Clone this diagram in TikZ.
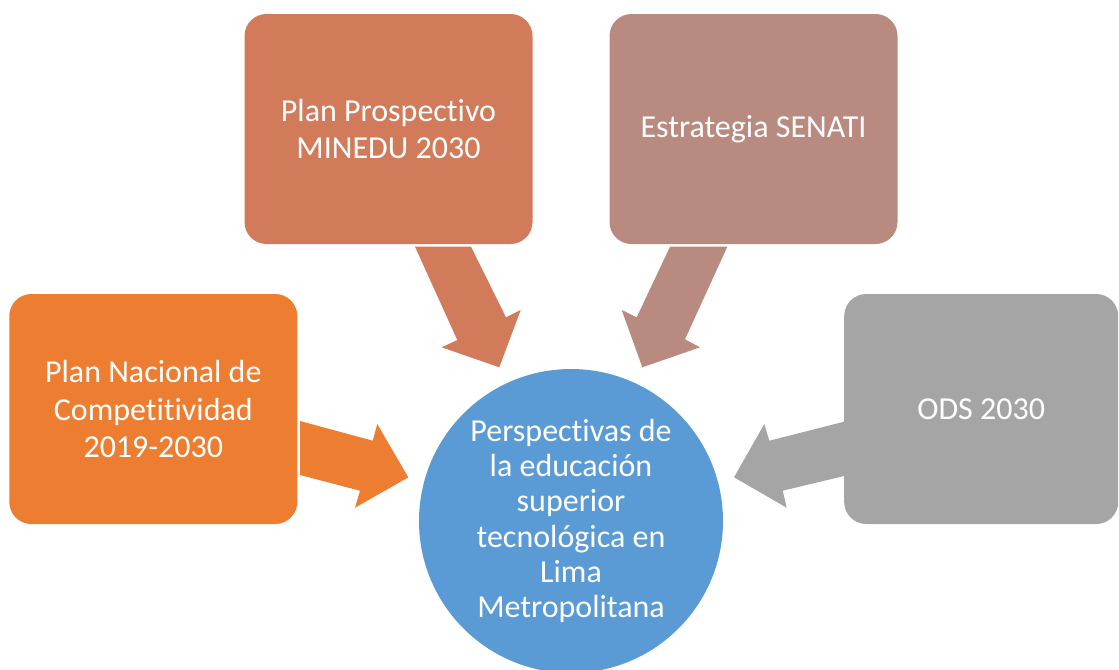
\documentclass[tikz,border=0pt]{standalone}
\usepackage{fontspec}
\setmainfont[Ligatures={NoCommon}]{Carlito}
\usepackage{tikz}
\usetikzlibrary{positioning}

\definecolor{naranja}{HTML}{ED7D31}
\definecolor{coral}{HTML}{D17B5B}
\definecolor{rosado}{HTML}{B98A80}
\definecolor{gris}{HTML}{A5A5A5}
\definecolor{azul}{HTML}{5B9BD5}

\begin{document}
\begin{tikzpicture}[x=0.75pt, y=-0.75pt,
    caja/.style={rectangle, rounded corners=16.5pt, minimum width=216pt,
      minimum height=172.5pt, align=center, text=white,
      font=\fontsize{24}{28}\selectfont},
    centro/.style={circle, fill=azul, minimum size=228pt, inner sep=0pt,
      align=center, text=white, font=\fontsize{24}{26.5}\selectfont}]
    \useasboundingbox (0,0) rectangle (1119,669);
    % Block arrows (behind the boxes)
    \fill[coral] (415,246.7) -- (471,246.7) -- (506,317.3) -- (520.7,310)
      -- (499.3,367.3) -- (441.7,347.3) -- (457.3,340) -- cycle;
    \fill[rosado] (670,246.7) -- (727.3,246.7) -- (685,339.3) -- (700,347.3)
      -- (642.3,367.3) -- (621.7,310) -- (636.7,317.3) -- cycle;
    \fill[naranja] (300,421) -- (372.7,440.7) -- (377.3,424) -- (408.3,477.3)
      -- (355,507.7) -- (360,490.7) -- (300,475) -- cycle;
    \fill[gris] (846,421.2) -- (769.3,440.7) -- (764.3,424) -- (734,477.3)
      -- (786.7,507.7) -- (782.7,490.7) -- (846,475.5) -- cycle;
    % Source boxes
    \node[caja, fill=coral] (minedu) at (388.5,129) {Plan Prospectivo\\MINEDU 2030};
    \node[caja, fill=rosado] (senati) at (753.5,129) {Estrategia SENATI};
    \node[caja, fill=naranja] (plan) at (153.3,409) {Plan Nacional de\\Competitividad\\2019-2030};
    \node[caja, fill=gris, minimum width=205.5pt] (ods) at (981.2,409) {ODS 2030};
    % Central circle
    \node[centro] (perspectivas) at (571,521) {Perspectivas de\\la educación\\superior\\tecnológica en\\Lima\\Metropolitana};
\end{tikzpicture}
\end{document}
